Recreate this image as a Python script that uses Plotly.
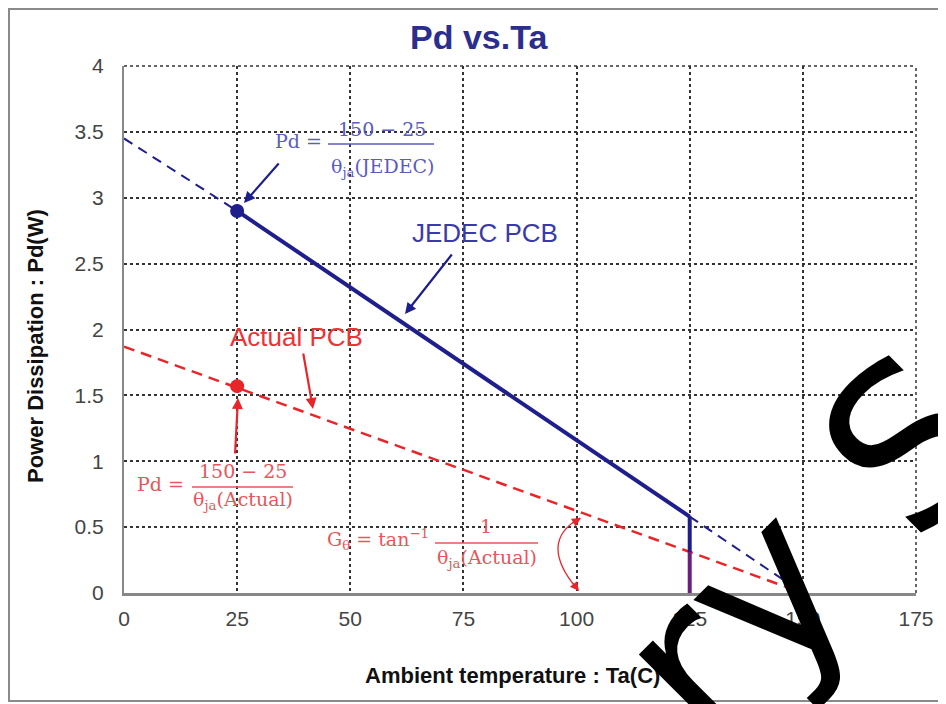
import plotly.graph_objects as go

OFF = 8  # page body margin
W, H = 946 - OFF, 704 - OFF
L, R, T, B = 124 - OFF, 30, 66 - OFF, 111
PW, PH = W - L - R, H - T - B
XMAX, YMAX = 175, 4

# helpers: convert page pixel coordinates to data / paper coordinates


def dx(px):
    return (px - OFF - L) / PW * XMAX


def dy(py):
    return (H - B - (py - OFF)) / PH * YMAX


def px_(px):
    return (px - OFF - L) / PW


def py_(py):
    return (H - B - (py - OFF)) / PH


# ---------------- data ----------------
ta_jedec_dash1 = [0, 25]
pd_jedec_dash1 = [3.45, 2.90]
ta_jedec_solid = [25, 125]
pd_jedec_solid = [2.90, 0.58]
ta_jedec_dash2 = [125, 150]
pd_jedec_dash2 = [0.58, 0.0]
ta_cut = [125, 125]
pd_cut_blue = [0.58, 0.31]
pd_cut_purple = [0.31, 0.0]
ta_actual = [0, 150]
pd_actual = [1.87, 0.0]
dot_ta = [25, 25]
dot_pd = [2.90, 1.57]
x_ticks = [0, 25, 50, 75, 100, 125, 150, 175]
x_tick_labels = ["0", "25", "50", "75", "100", "125", "150", "175"]
y_ticks = [0, 0.5, 1, 1.5, 2, 2.5, 3, 3.5, 4]
y_tick_labels = ["0", "0.5", "1", "1.5", "2", "2.5", "3", "3.5", "4"]

NAVY = "#1E1E8C"
RED = "#E8262A"
BLUE_TXT = "#3A3AA8"
BLUE_F = "#5B5BC0"
RED_F = "#E8555A"

fig = go.Figure()
fig.add_trace(go.Scatter(x=ta_actual, y=pd_actual, mode="lines",
                         line=dict(color=RED, width=2.5, dash="11px,7px"), hoverinfo="skip"))
fig.add_trace(go.Scatter(x=ta_jedec_dash1, y=pd_jedec_dash1, mode="lines",
                         line=dict(color=NAVY, width=2, dash="10px,7px"), hoverinfo="skip"))
fig.add_trace(go.Scatter(x=ta_jedec_dash2, y=pd_jedec_dash2, mode="lines",
                         line=dict(color=NAVY, width=2, dash="10px,7px"), hoverinfo="skip"))
fig.add_trace(go.Scatter(x=ta_jedec_solid, y=pd_jedec_solid, mode="lines",
                         line=dict(color=NAVY, width=4), hoverinfo="skip"))
fig.add_trace(go.Scatter(x=ta_cut, y=pd_cut_blue, mode="lines",
                         line=dict(color=NAVY, width=4), hoverinfo="skip"))
fig.add_trace(go.Scatter(x=ta_cut, y=pd_cut_purple, mode="lines",
                         line=dict(color="#6A1E7E", width=4), hoverinfo="skip"))
fig.add_trace(go.Scatter(x=dot_ta, y=dot_pd, mode="markers",
                         marker=dict(color=[NAVY, RED], size=14), hoverinfo="skip"))

ann = []
# title
ann.append(dict(x=px_(479), y=py_(37), xref="paper", yref="paper", text="<b>Pd vs.Ta</b>",
                showarrow=False, xanchor="center", yanchor="middle",
                font=dict(family="Liberation Sans", size=34, color="#2B2E8E")))
# axis titles
ann.append(dict(x=px_(512), y=py_(675), xref="paper", yref="paper",
                text="<b>Ambient temperature : Ta(C)</b>", showarrow=False,
                xanchor="center", yanchor="middle",
                font=dict(family="Liberation Sans", size=22, color="#111")))
ann.append(dict(x=px_(35), y=py_(346), xref="paper", yref="paper",
                text="<b>Power Dissipation : Pd(W)</b>", showarrow=False, textangle=-90,
                xanchor="center", yanchor="middle",
                font=dict(family="Liberation Sans", size=22, color="#111")))

# labels
ann.append(dict(x=dx(485), y=dy(233), text="JEDEC PCB", showarrow=False,
                xanchor="center", yanchor="middle",
                font=dict(family="Liberation Sans", size=26, color=BLUE_TXT)))
ann.append(dict(x=dx(296), y=dy(337), text="Actual PCB", showarrow=False,
                xanchor="center", yanchor="middle",
                font=dict(family="Liberation Sans", size=26, color="#EE3338")))


def arrow(x0, y0, x1, y1, color, w=2.2, head=2, size=1.0):
    return dict(x=dx(x1), y=dy(y1), ax=dx(x0), ay=dy(y0), axref="x", ayref="y",
                text="", showarrow=True, arrowhead=head, arrowsize=size,
                arrowwidth=w, arrowcolor=color, standoff=0)


ann.append(arrow(280, 162, 244, 203, NAVY))
ann.append(arrow(453, 253, 405, 314, NAVY))
ann.append(arrow(303, 352, 313, 409, RED))
ann.append(arrow(235, 455, 238, 398, RED))

SERIF = "DejaVu Serif"


def ftext(x, y, s, color, size=19):
    return dict(x=dx(x), y=dy(y), text=s, showarrow=False, xanchor="center",
                yanchor="middle", font=dict(family=SERIF, size=size, color=color))


# blue formula
ann.append(ftext(298, 141, "Pd =", BLUE_F))
ann.append(ftext(382, 129, "150 − 25", BLUE_F))
ann.append(ftext(382, 167, "θ<sub>ja</sub>(JEDEC)", BLUE_F))
# red formula 1
ann.append(ftext(160, 484, "Pd =", RED_F))
ann.append(ftext(243, 471, "150 − 25", RED_F))
ann.append(ftext(243, 500, "θ<sub>ja</sub>(Actual)", RED_F))
# red formula 2
ann.append(ftext(378, 539, "G<sub>θ</sub> = tan<sup>−1</sup>", RED_F))
ann.append(ftext(486, 526, "1", RED_F))
ann.append(ftext(487, 558, "θ<sub>ja</sub>(Actual)", RED_F))

# arc arrowheads
ann.append(dict(x=dx(581), y=dy(518), ax=-10, ay=6, text="", showarrow=True,
                arrowhead=2, arrowsize=1.2, arrowwidth=1.5, arrowcolor=RED, standoff=0))
ann.append(dict(x=dx(579), y=dy(591), ax=-7, ay=-9, text="", showarrow=True,
                arrowhead=2, arrowsize=1.2, arrowwidth=1.5, arrowcolor=RED, standoff=0))

# watermark
ann.append(dict(x=px_(808), y=py_(548), xref="paper", yref="paper", text="ry S",
                showarrow=False, textangle=-45, xanchor="center", yanchor="middle",
                font=dict(family="DejaVu Sans", size=220, color="#000")))

shapes = []
# fraction bars
for (a, b, yy, c) in [(328, 434, 144, BLUE_F), (192, 293, 487, RED_F), (435, 538, 543, RED_F)]:
    shapes.append(dict(type="line", x0=dx(a), x1=dx(b), y0=dy(yy), y1=dy(yy),
                       line=dict(color=c, width=1.5)))
# arc
shapes.append(dict(type="path",
                   path=f"M {dx(580)},{dy(518)} Q {dx(537)},{dy(542)} {dx(578)},{dy(590)}",
                   line=dict(color=RED, width=1.3)))
# top & right dotted border
shapes.append(dict(type="line", xref="paper", yref="paper", x0=0, x1=1, y0=1, y1=1,
                   line=dict(color="#333", width=1.5, dash="dot")))
shapes.append(dict(type="line", xref="paper", yref="paper", x0=1, x1=1, y0=0, y1=1,
                   line=dict(color="#333", width=1.5, dash="dot")))
# outer frame
shapes.append(dict(type="rect", xref="paper", yref="paper", x0=px_(9), x1=px_(960),
                   y0=py_(701), y1=py_(9), line=dict(color="#8a8a8a", width=2), layer="below"))

fig.update_layout(
    width=W, height=H, margin=dict(l=L, r=R, t=T, b=B),
    paper_bgcolor="white", plot_bgcolor="white", showlegend=False,
    annotations=ann, shapes=shapes,
    xaxis=dict(range=[0, XMAX], tickvals=x_ticks, ticktext=x_tick_labels,
               showgrid=True, gridcolor="#333", griddash="dot", gridwidth=1.5,
               zeroline=False, showline=True, linecolor="#888", linewidth=3,
               ticks="", ticklabelstandoff=5,
               tickfont=dict(family="Liberation Sans", size=21, color="#444")),
    yaxis=dict(range=[0, YMAX], tickvals=y_ticks, ticktext=y_tick_labels,
               showgrid=True, gridcolor="#333", griddash="dot", gridwidth=1.5,
               zeroline=False, showline=True, linecolor="#888", linewidth=2,
               ticks="", ticklabelstandoff=14,
               tickfont=dict(family="Liberation Sans", size=21, color="#444")),
)

fig.write_html("out.html")
